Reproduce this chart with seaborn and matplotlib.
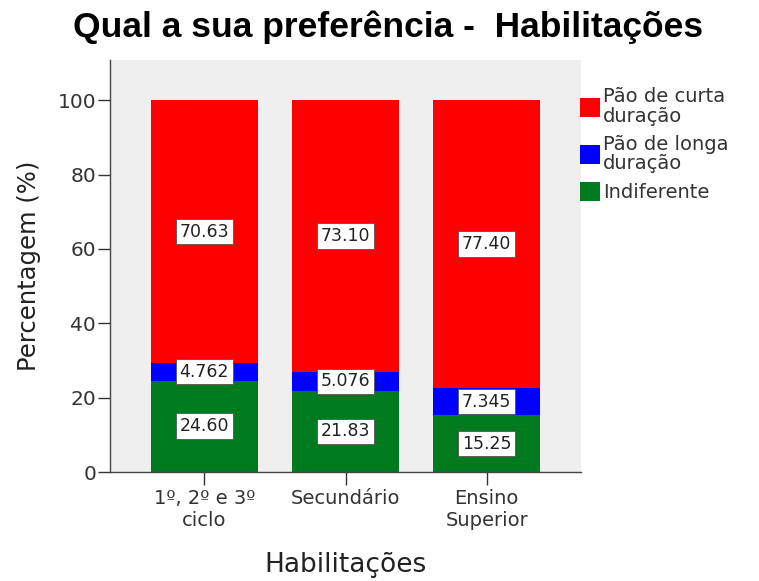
import numpy as np
import pandas as pd
import matplotlib
matplotlib.use('Agg')
import matplotlib.pyplot as plt
import seaborn as sns
from matplotlib.patches import Patch

# dados
categorias = ['1º, 2º e 3º\nciclo', 'Secundário', 'Ensino\nSuperior']
curta = [70.63, 73.10, 77.40]
longa = [4.762, 5.076, 7.345]
indiferente = [24.60, 21.83, 15.25]
rotulos_curta = ['70.63', '73.10', '77.40']
rotulos_longa = ['4.762', '5.076', '7.345']
rotulos_ind = ['24.60', '21.83', '15.25']
series = ['Pão de curta\nduração', 'Pão de longa\nduração', 'Indiferente']
cores = ['#FF0000', '#0000FF', '#007A1E']

sns.set_theme(style='white')
plt.rcParams['font.family'] = ['DejaVu Sans']

df = pd.DataFrame({'cat': categorias, 'curta': curta, 'longa': longa, 'ind': indiferente})
df['topo_longa'] = df['ind'] + df['longa']
df['topo_curta'] = df['topo_longa'] + df['curta']

fig = plt.figure(figsize=(7.59, 5.81), dpi=100)
ax = fig.add_axes([110 / 759, 1 - 472 / 581, 471 / 759, 412 / 581])
ax.set_facecolor('#EFEFEF')

# barras empilhadas (desenhadas por cima umas das outras)
for col, cor in zip(['topo_curta', 'topo_longa', 'ind'], cores):
    sns.barplot(data=df, x='cat', y=col, color=cor, saturation=1, width=0.76,
                linewidth=0, edgecolor='none', ax=ax)

caixa = dict(boxstyle='square,pad=0.22', fc='white', ec='#555555', lw=0.6)
for i in range(len(categorias)):
    ax.text(i, df['ind'][i] / 2, rotulos_ind[i], ha='center', va='center', fontsize=12.5, bbox=caixa, color='#222222')
    ax.text(i, df['ind'][i] + df['longa'][i] / 2, rotulos_longa[i], ha='center', va='center', fontsize=12.5, bbox=caixa, color='#222222')
    ax.text(i, df['topo_longa'][i] + df['curta'][i] / 2, rotulos_curta[i], ha='center', va='center', fontsize=12.5, bbox=caixa, color='#222222')

ax.set_xlim(-0.667, 2.667)
ax.set_ylim(0, 110.8)
ax.set_yticks([0, 20, 40, 60, 80, 100])
ax.tick_params(axis='both', direction='out', length=9, width=1, color='#333333',
               labelsize=14, labelcolor='#333333', bottom=True, left=True)
ax.tick_params(axis='y', pad=1, labelsize=14.5)
ax.tick_params(axis='x', pad=3)
for s in ['top', 'right']:
    ax.spines[s].set_visible(False)
for s in ['left', 'bottom']:
    ax.spines[s].set_color('#444444')
    ax.spines[s].set_linewidth(1)

ax.set_xlabel('Habilitações', fontsize=19, color='#222222', labelpad=16)
ax.set_ylabel('Percentagem (%)', fontsize=17.5, color='#222222', labelpad=12)
fig.suptitle('Qual a sua preferência -  Habilitações', x=388 / 759, y=1 - 10 / 581,
             fontsize=25.5, fontweight='bold', family='Liberation Sans', va='top', color='black')

handles = [Patch(facecolor=c, edgecolor='none') for c in cores]
leg = fig.legend(handles, series, loc='upper left', bbox_to_anchor=(580 / 759, 1 - 87 / 581),
                 frameon=False, fontsize=14, handlelength=1.05, handleheight=1.1,
                 handletextpad=0.15, labelspacing=0.45, borderaxespad=0, borderpad=0)
for t in leg.get_texts():
    t.set_color('#333333')
    t.set_linespacing(1.05)

fig.savefig('out.png', dpi=100)
